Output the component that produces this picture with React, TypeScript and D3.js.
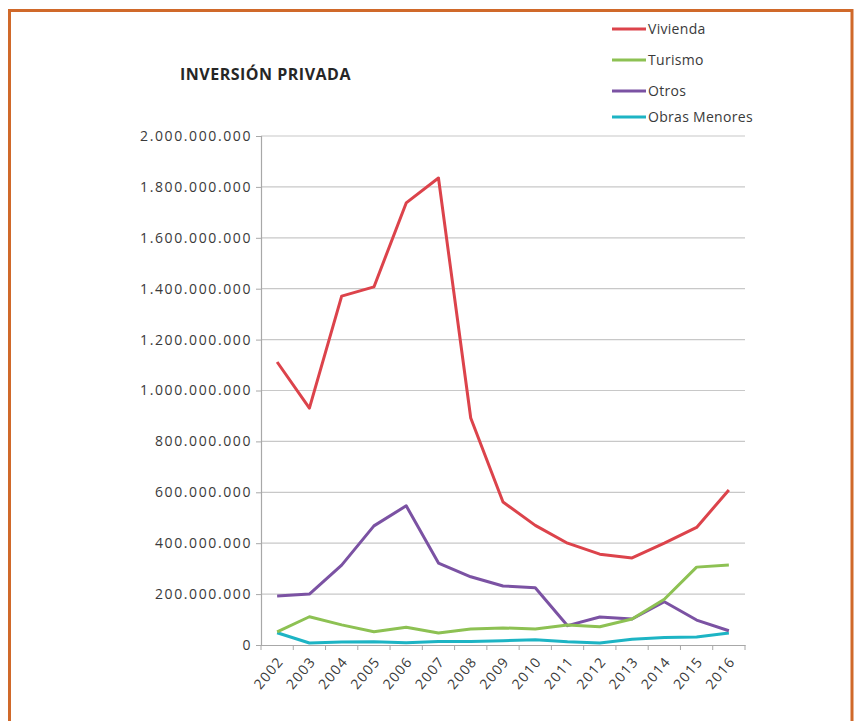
import * as React from 'react';
import {useEffect, useRef} from 'react';
import * as d3 from 'd3';

const years = ['2002', '2003', '2004', '2005', '2006', '2007', '2008', '2009', '2010', '2011', '2012', '2013', '2014', '2015', '2016'];

const vivienda = [1112e6, 931e6, 1371e6, 1407e6, 1737e6, 1835e6, 892e6, 562e6, 470e6, 400e6, 357e6, 342e6, 400e6, 462e6, 609e6];
const turismo = [52e6, 111e6, 79e6, 52e6, 70e6, 47e6, 63e6, 67e6, 63e6, 79e6, 72e6, 102e6, 180e6, 306e6, 314e6];
const otros = [193e6, 200e6, 314e6, 468e6, 547e6, 322e6, 268e6, 232e6, 225e6, 76e6, 110e6, 102e6, 170e6, 98e6, 56e6];
const obrasMenores = [48e6, 8e6, 12e6, 13e6, 9e6, 14e6, 14e6, 17e6, 21e6, 13e6, 8e6, 23e6, 29e6, 31e6, 47e6];

const seriesNames = ['Vivienda', 'Turismo', 'Otros', 'Obras Menores'];
const seriesColors = ['#dc434b', '#8dc153', '#7b52a3', '#1db4c4'];
const seriesValues = [vivienda, turismo, otros, obrasMenores];

const yTicks = [0, 2e8, 4e8, 6e8, 8e8, 1e9, 1.2e9, 1.4e9, 1.6e9, 1.8e9, 2e9];

const W = 854;
const H = 721;

const fmt = (v: number) => d3.format(',')(v).replace(/,/g, '.');

export default function App() {
  const ref = useRef<SVGSVGElement>(null);

  useEffect(() => {
    document.body.style.margin = '0';
    const svg = d3.select(ref.current);
    svg.selectAll('*').remove();

    const font = "'Open Sans', 'DejaVu Sans', sans-serif";
    const left = 261, right = 745, top = 136, bottom = 645;

    const x = d3.scaleBand<string>().domain(years).range([left, right]);
    const y = d3.scaleLinear().domain([0, 2e9]).range([bottom, top]);

    svg.append('rect').attr('width', W).attr('height', H).attr('fill', '#fff');

    // orange frame (no bottom edge visible)
    svg.append('path')
      .attr('d', `M9.5,${H} V10.5 H852 V${H}`)
      .attr('fill', 'none')
      .attr('stroke', '#d0692a')
      .attr('stroke-width', 3);

    // gridlines
    svg.append('g')
      .selectAll('line')
      .data(yTicks.slice(1))
      .join('line')
      .attr('x1', left).attr('x2', right)
      .attr('y1', d => y(d)).attr('y2', d => y(d))
      .attr('stroke', '#c8c8c8')
      .attr('stroke-width', 1.2);

    // y axis
    const yAxis = svg.append('g')
      .attr('transform', `translate(${left},0)`)
      .call(d3.axisLeft(y).tickValues(yTicks).tickSize(5).tickPadding(4).tickFormat(d => fmt(+d)));
    yAxis.select('.domain').attr('stroke', '#a8a8a8').attr('stroke-width', 1.2);
    yAxis.selectAll('.tick line').attr('stroke', '#a8a8a8');
    yAxis.selectAll('text')
      .attr('font-family', font)
      .attr('font-size', 14)
      .attr('letter-spacing', 1.6)
      .attr('fill', '#3a3a3a');

    // x axis
    const xAxis = svg.append('g')
      .attr('transform', `translate(0,${bottom})`)
      .call(d3.axisBottom(x).tickSize(0).tickPadding(0));
    xAxis.select('.domain').attr('stroke', '#a8a8a8').attr('stroke-width', 1.2);
    xAxis.selectAll('.tick text')
      .attr('font-family', font)
      .attr('font-size', 14)
      .attr('letter-spacing', 1.2)
      .attr('fill', '#3a3a3a')
      .attr('text-anchor', 'end')
      .attr('dy', null)
      .attr('transform', 'translate(7,17) rotate(-50)');

    // category boundary ticks
    svg.append('g')
      .selectAll('line')
      .data(years.concat(['end']))
      .join('line')
      .attr('x1', (d, i) => i < years.length ? x(d)! : right)
      .attr('x2', (d, i) => i < years.length ? x(d)! : right)
      .attr('y1', bottom).attr('y2', bottom + 5)
      .attr('stroke', '#a8a8a8');

    const line = d3.line<number>()
      .x((_, i) => x(years[i])! + x.bandwidth() / 2)
      .y(d => y(d));

    // draw in reverse so Vivienda sits on top
    seriesValues.slice().reverse().forEach((vals, ri) => {
      const i = seriesValues.length - 1 - ri;
      svg.append('path')
        .datum(vals)
        .attr('d', line)
        .attr('fill', 'none')
        .attr('stroke', seriesColors[i])
        .attr('stroke-width', 3)
        .attr('stroke-linejoin', 'round');
    });

    // title
    svg.append('text')
      .attr('x', 180).attr('y', 80)
      .attr('font-family', font)
      .attr('font-weight', 'bold')
      .attr('font-size', 16)
      .attr('letter-spacing', 0.5)
      .attr('fill', '#262626')
      .text('INVERSIÓN PRIVADA');

    // legend
    const legendY = [29, 60, 91, 117];
    const lg = svg.append('g')
      .selectAll('g')
      .data(seriesNames)
      .join('g')
      .attr('transform', (_, i) => `translate(612,${legendY[i]})`);
    lg.append('line')
      .attr('x1', 0).attr('x2', 34)
      .attr('stroke', (_, i) => seriesColors[i])
      .attr('stroke-width', 3);
    lg.append('text')
      .attr('x', 36).attr('dy', '0.35em')
      .attr('font-family', font)
      .attr('font-size', 14)
      .attr('letter-spacing', 0.3)
      .attr('fill', '#3a3a3a')
      .text(d => d);
  }, []);

  return <svg ref={ref} width={W} height={H} style={{display: 'block'}} />;
}
